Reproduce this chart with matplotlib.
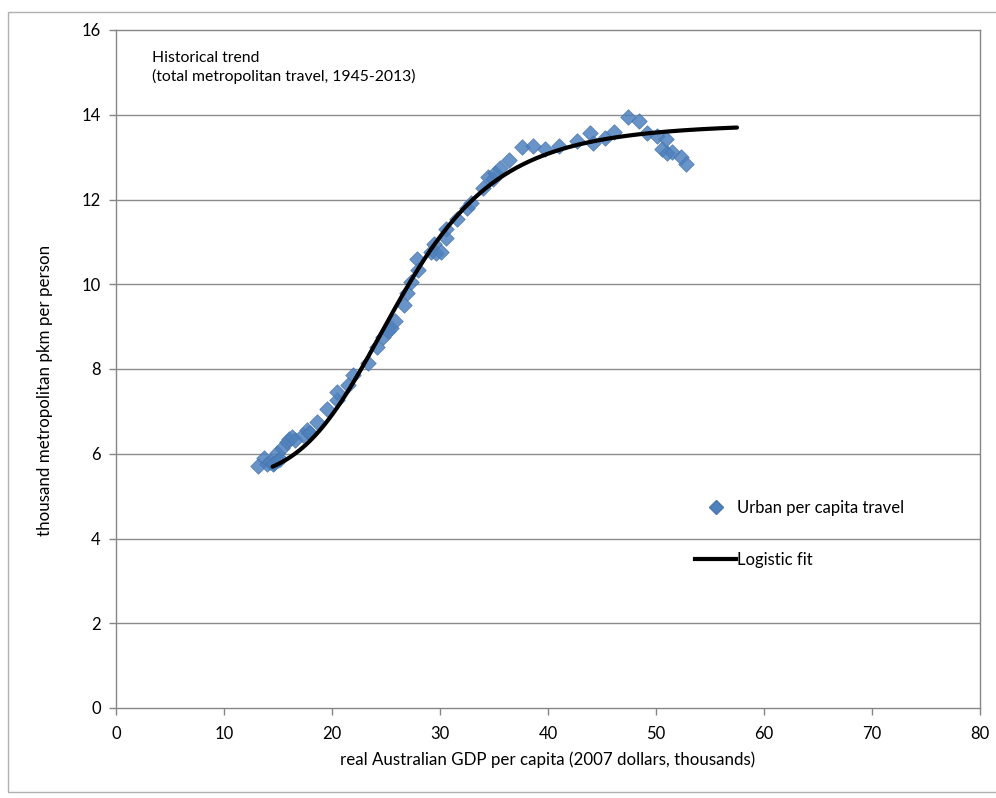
import numpy as np
import matplotlib
matplotlib.use("Agg")
import matplotlib.pyplot as plt
from matplotlib.lines import Line2D
from matplotlib.patches import Rectangle

# ---- data ----
gdp = [13.15, 13.7, 14.0, 14.3, 14.5, 14.6, 14.9, 15.0, 15.2, 15.4, 15.8, 16.0, 16.3, 16.6,
       17.3, 17.7, 17.9, 18.0, 18.6, 19.5, 20.5, 20.5, 21.5, 21.9, 23.3, 24.2, 24.7, 25.2,
       25.5, 25.8, 26.7, 26.9, 27.3, 27.9, 28.0, 29.2, 29.4, 29.6, 30.1, 30.6, 30.6, 31.6,
       32.5, 32.9, 34.0, 34.4, 34.9, 35.1, 35.6, 36.4, 37.6, 38.6, 39.7, 41.0, 42.7, 43.9,
       44.2, 45.3, 46.1, 47.4, 48.4, 49.2, 50.1, 50.6, 50.9, 51.0, 51.5, 52.3, 52.8]
travel = [5.71, 5.90, 5.75, 5.80, 5.75, 5.78, 6.01, 5.85, 5.88, 6.13, 6.28, 6.35, 6.40, 6.33,
          6.44, 6.56, 6.50, 6.50, 6.75, 7.06, 7.27, 7.46, 7.62, 7.86, 8.14, 8.52, 8.76, 8.90,
          8.97, 9.13, 9.51, 9.80, 10.05, 10.60, 10.34, 10.76, 10.95, 10.74, 10.76, 11.30, 11.09, 11.54,
          11.80, 11.92, 12.27, 12.53, 12.48, 12.62, 12.75, 12.93, 13.24, 13.26, 13.19, 13.26, 13.38, 13.57,
          13.33, 13.45, 13.59, 13.95, 13.85, 13.57, 13.50, 13.20, 13.43, 13.10, 13.12, 13.00, 12.84]

# logistic fit (in log GDP) parameters: lower, upper, midpoint, exponent, and range
fit_lower, fit_upper, fit_mid, fit_n = 5.4, 13.8, 26.2, 5.6
fit_xmin, fit_xmax = 14.5, 57.5

x_ticks = [0, 10, 20, 30, 40, 50, 60, 70, 80]
y_ticks = [0, 2, 4, 6, 8, 10, 12, 14, 16]

plt.rcParams['font.family'] = ['Lato', 'DejaVu Sans']

fig = plt.figure(figsize=(9.96, 7.98), dpi=100)
ax = fig.add_axes([116/996, 1-708/798, (980-116)/996, (708-30)/798])

grid_c = '#8c8c8c'
for y in y_ticks[1:-1]:
    ax.axhline(y, color=grid_c, lw=1.0, zorder=0)

ax.scatter(gdp, travel, marker='D', s=62, color='#4F81BD', edgecolor='#4a78b0',
           linewidths=0.6, alpha=0.85, zorder=2)

xf = np.linspace(fit_xmin, fit_xmax, 300)
yf = fit_lower + (fit_upper - fit_lower) / (1 + (fit_mid / xf) ** fit_n)
ax.plot(xf, yf, color='black', lw=3, zorder=3, solid_capstyle='round')

ax.set_xlim(0, 80)
ax.set_ylim(0, 16)
ax.set_xticks(x_ticks)
ax.set_yticks(y_ticks)
for s in ax.spines.values():
    s.set_color('#868686')
    s.set_linewidth(1.0)
ax.tick_params(axis='both', direction='out', length=5, color='#868686',
               labelsize=12, labelcolor='black', width=1)
ax.tick_params(axis='x', pad=8)
ax.tick_params(axis='y', pad=6)

ax.set_xlabel('real Australian GDP per capita (2007 dollars, thousands)', fontsize=12.2)
ax.xaxis.set_label_coords(0.5, -(751-708)/678)
ax.set_ylabel('thousand metropolitan pkm per person', fontsize=12.2)
ax.yaxis.set_label_coords(-(116-53)/864, (708-390)/678)

ax.text(3.3, 15.5, 'Historical trend\n(total metropolitan travel, 1945-2013)',
        fontsize=11.3, va='top', ha='left', linespacing=1.3)

handles = [Line2D([], [], marker='D', ls='none', color='#4F81BD', markersize=7,
                  markeredgecolor='#4a78b0'),
           Line2D([], [], color='black', lw=3)]
leg = ax.legend(handles, ['Urban per capita travel', 'Logistic fit'], frameon=False,
                loc='upper left', bbox_to_anchor=((688-116)/864, (708-493)/678),
                fontsize=12, handlelength=2.5, handletextpad=0.05, labelspacing=2.2,
                borderaxespad=0)

border = Rectangle((8/996, 1-792/798), 1.0, 780/798, transform=fig.transFigure,
                   fill=False, edgecolor='#b0b0b0', lw=1.0, clip_on=False)
fig.patches.append(border)

fig.savefig('out.png', dpi=100)
